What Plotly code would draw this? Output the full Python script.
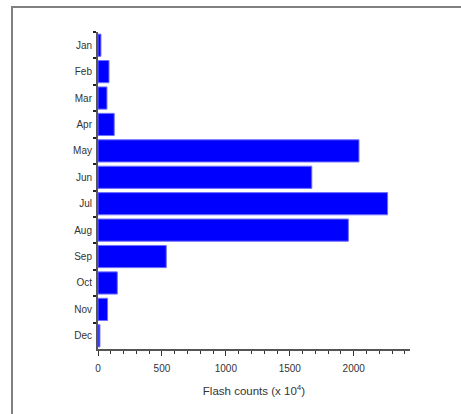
import plotly.graph_objects as go

months = ["Jan", "Feb", "Mar", "Apr", "May", "Jun", "Jul", "Aug", "Sep", "Oct", "Nov", "Dec"]
flash_counts = [23, 86, 70, 127, 2041, 1672, 2265, 1958, 534, 151, 75, 15]
x_tick_values = [0, 500, 1000, 1500, 2000]
x_tick_labels = ["0", "500", "1000", "1500", "2000"]

W, H = 461, 414
ML, MR, MT, MB = 98, 51, 32, 65
pw = W - ML - MR
ph = H - MT - MB

fig = go.Figure(go.Bar(
    y=months, x=flash_counts, orientation="h",
    marker=dict(color="#0000ff", line=dict(color="#7070ff", width=1)),
    width=0.84,
))

def px2paper_x(px):
    return (px - ML) / pw

def px2paper_y(py):
    return 1 - (py - MT) / ph

frame_color = "#808080"
fig.add_shape(type="line", xref="paper", yref="paper",
              x0=px2paper_x(11), x1=px2paper_x(470), y0=px2paper_y(7), y1=px2paper_y(7),
              line=dict(color=frame_color, width=2))
fig.add_shape(type="line", xref="paper", yref="paper",
              x0=px2paper_x(12), x1=px2paper_x(12), y0=px2paper_y(6), y1=px2paper_y(420),
              line=dict(color=frame_color, width=2))

fig.update_layout(
    width=W, height=H,
    margin=dict(l=ML, r=MR, t=MT, b=MB),
    paper_bgcolor="white", plot_bgcolor="white",
    showlegend=False,
    font=dict(family="Liberation Sans, Arial, sans-serif", color="#333333", size=10),
    xaxis=dict(
        range=[0, 2440],
        tickvals=x_tick_values, ticktext=x_tick_labels,
        ticks="outside", ticklen=5, tickcolor="#333333", tickwidth=1,
        minor=dict(dtick=100, ticks="outside", ticklen=3, tickcolor="#333333"),
        showline=True, linecolor="#555555", linewidth=2,
        showgrid=False, zeroline=False,
        ticklabelstandoff=4,
        title=dict(text="Flash counts (x 10<sup>4</sup>)", font=dict(size=11.5, color="#333333"), standoff=14),
        fixedrange=True,
    ),
    yaxis=dict(
        categoryorder="array", categoryarray=months,
        autorange="reversed",
        tickson="boundaries",
        ticks="outside", ticklen=3, tickcolor="#222222", tickwidth=2,
        showline=True, linecolor="#555555", linewidth=2,
        showgrid=False, zeroline=False,
        ticklabelstandoff=2,
        tickfont=dict(size=10, color="#333333"),
    ),
)

fig.write_html("out.html", config={"displayModeBar": False, "staticPlot": True})

with open("out.html", "r", encoding="utf-8") as f:
    html = f.read()
html = html.replace("<body>", '<body style="margin:0;overflow:hidden">', 1)
with open("out.html", "w", encoding="utf-8") as f:
    f.write(html)
